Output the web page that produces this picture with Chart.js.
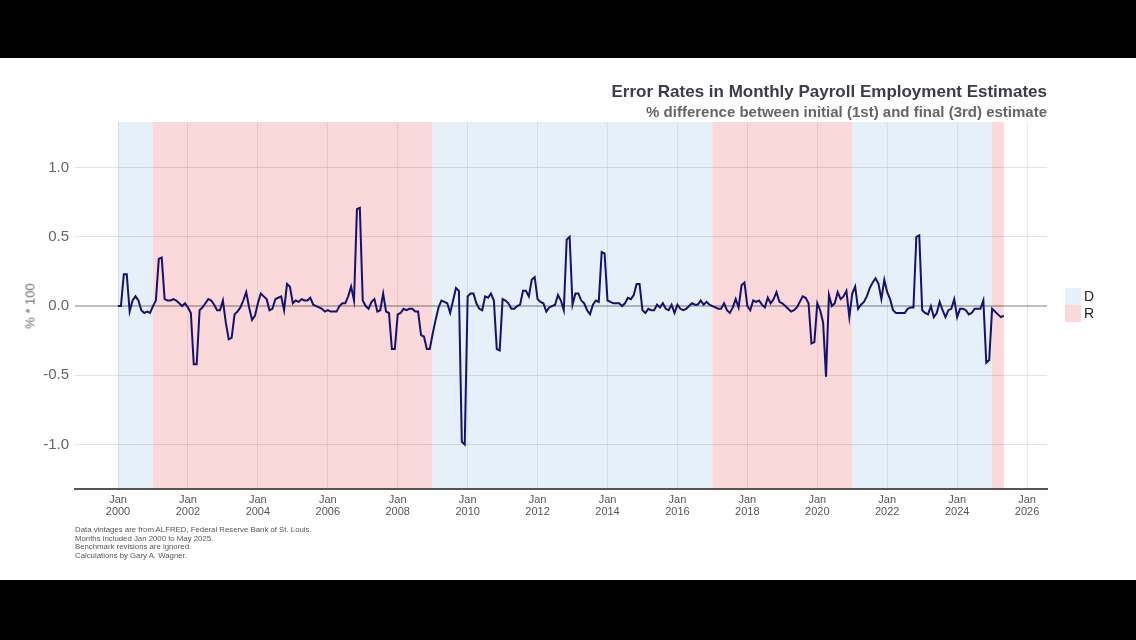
<!DOCTYPE html>
<html>
<head>
<meta charset="utf-8">
<script src="https://cdn.jsdelivr.net/npm/chart.js@4.4.1/dist/chart.umd.min.js"></script>
<style>
  html, body { margin:0; padding:0; background:#000; width:1136px; height:640px; overflow:hidden; }
  body { font-family: 'Liberation Sans', Arial, sans-serif; }
  #panel { position:absolute; left:0; top:58px; width:1136px; height:522px; background:#fff; }
  #chart { position:absolute; left:0; top:0; }
  .title { position:absolute; right:89px; top:25px; font-size:17px; line-height:17px; font-weight:bold; color:#3a3d48; white-space:nowrap; }
  .subtitle { position:absolute; right:89px; top:46px; font-size:15px; line-height:15px; font-weight:bold; color:#666; white-space:nowrap; }
  .ytitle { position:absolute; left:30px; top:248px; transform:translate(-50%,-50%) rotate(-90deg); font-size:13px; color:#6a6a6a; white-space:nowrap; }
  .note { position:absolute; left:75px; top:468px; font-size:7.8px; line-height:8.6px; color:#555; white-space:nowrap; }
  .lg-box { position:absolute; left:1065px; width:16px; height:17px; }
  .lg-txt { position:absolute; left:1084px; font-size:14px; line-height:17px; color:#222; }
</style>
</head>
<body>
<div id="panel">
  <canvas id="chart" width="1136" height="522"></canvas>
  <div class="title">Error Rates in Monthly Payroll Employment Estimates</div>
  <div class="subtitle">% difference between initial (1st) and final (3rd) estimate</div>
  <div class="ytitle">% * 100</div>
  <div class="note">Data vintages are from ALFRED, Federal Reserve Bank of St. Louis.<br>Months included Jan 2000 to May 2025.<br>Benchmark revisions are ignored.<br>Calculations by Gary A. Wagner.</div>
  <div class="lg-box" id="lgD" style="top:230px"></div>
  <div class="lg-txt" style="top:230px">D</div>
  <div class="lg-box" id="lgR" style="top:247px"></div>
  <div class="lg-txt" style="top:247px">R</div>
</div>
<script>
// ---- data ----
const startYear = 2000;           // first month: Jan 2000 (monthly series)
const errorRate = [
  // 2000
  0.00, 0.00, 0.23, 0.23, -0.04, 0.04, 0.07, 0.04, -0.03, -0.05, -0.04, -0.05,
  // 2001
  0.00, 0.04, 0.34, 0.35, 0.05, 0.04, 0.04, 0.05, 0.04, 0.02, 0.00, 0.02,
  // 2002
  -0.01, -0.05, -0.42, -0.42, -0.03, -0.01, 0.02, 0.05, 0.04, 0.01, -0.03, -0.03,
  // 2003
  0.04, -0.12, -0.24, -0.23, -0.06, -0.04, -0.01, 0.04, 0.10, -0.01, -0.10, -0.07,
  // 2004
  0.02, 0.09, 0.07, 0.05, -0.03, -0.02, 0.05, 0.06, 0.07, -0.03, 0.16, 0.14,
  // 2005
  0.02, 0.04, 0.03, 0.05, 0.04, 0.04, 0.06, 0.01, 0.00, -0.01, -0.02, -0.04,
  // 2006
  -0.03, -0.04, -0.04, -0.04, 0.00, 0.02, 0.02, 0.07, 0.14, 0.04, 0.70, 0.71,
  // 2007
  0.04, 0.00, -0.02, 0.03, 0.05, -0.04, -0.03, 0.09, -0.04, -0.05, -0.31, -0.31,
  // 2008
  -0.06, -0.05, -0.02, -0.03, -0.02, -0.02, -0.04, -0.04, -0.21, -0.22, -0.31, -0.31,
  // 2009
  -0.20, -0.10, -0.01, 0.04, 0.03, 0.02, -0.05, 0.04, 0.13, 0.11, -0.98, -1.00,
  // 2010
  0.07, 0.09, 0.09, 0.02, -0.02, -0.03, 0.07, 0.06, 0.09, 0.04, -0.31, -0.32,
  // 2011
  0.05, 0.04, 0.02, -0.02, -0.02, 0.00, 0.01, 0.11, 0.11, 0.07, 0.19, 0.21,
  // 2012
  0.05, 0.03, 0.02, -0.04, -0.01, 0.00, 0.01, 0.08, 0.04, -0.03, 0.48, 0.50,
  // 2013
  0.01, 0.09, 0.09, 0.04, 0.02, -0.03, -0.06, 0.01, 0.04, 0.03, 0.39, 0.38,
  // 2014
  0.04, 0.03, 0.02, 0.02, 0.02, 0.00, 0.02, 0.06, 0.05, 0.08, 0.16, 0.16,
  // 2015
  -0.03, -0.05, -0.02, -0.03, -0.03, 0.01, -0.01, 0.02, -0.02, -0.03, 0.01, -0.05,
  // 2016
  0.01, -0.02, -0.03, -0.02, 0.00, 0.02, 0.01, 0.01, 0.04, 0.01, 0.03, 0.01,
  // 2017
  0.00, -0.01, -0.02, -0.02, 0.02, -0.03, -0.05, -0.01, 0.05, -0.01, 0.15, 0.17,
  // 2018
  0.00, -0.03, 0.04, 0.03, 0.04, 0.01, -0.01, 0.06, 0.02, 0.05, 0.10, 0.03,
  // 2019
  0.02, 0.00, -0.02, -0.04, -0.03, -0.01, 0.03, 0.07, 0.06, 0.02, -0.27, -0.26,
  // 2020
  0.02, -0.03, -0.12, -0.51, 0.08, 0.00, 0.02, 0.10, 0.05, 0.07, 0.11, -0.08,
  // 2021
  0.09, 0.14, -0.02, 0.01, 0.03, 0.07, 0.13, 0.17, 0.20, 0.16, 0.05, 0.19,
  // 2022
  0.10, 0.05, -0.03, -0.05, -0.05, -0.05, -0.05, -0.02, -0.01, -0.01, 0.50, 0.51,
  // 2023
  -0.03, -0.05, -0.06, 0.00, -0.08, -0.05, 0.03, -0.03, -0.08, -0.03, -0.02, 0.05,
  // 2024
  -0.08, -0.02, -0.02, -0.03, -0.06, -0.05, -0.02, -0.02, -0.02, 0.04, -0.41, -0.39,
  // 2025
  -0.02, -0.04, -0.06, -0.08, -0.07
];
const termStart = [2000, 2001, 2009, 2017, 2021, 2025];
const termEnd   = [2001, 2009, 2017, 2021, 2025, 2025 + 4/12];
const termParty = ['D', 'R', 'D', 'R', 'D', 'R'];
const partyNames = ['D', 'R'];
const xTickYears = [2000, 2002, 2004, 2006, 2008, 2010, 2012, 2014, 2016, 2018, 2020, 2022, 2024, 2026];
const xTickMonth = 'Jan';
const yTicks = [-1.0, -0.5, 0.0, 0.5, 1.0];

// ---- styles ----
const partyColors = { D: '#e6f0f9', R: '#fbd8da' };
document.getElementById('lgD').style.background = partyColors.D;
document.getElementById('lgR').style.background = partyColors.R;

const points = errorRate.map((v, i) => ({ x: startYear + i / 12, y: v }));

const shadingPlugin = {
  id: 'partyShading',
  beforeDraw(chart) {
    const { ctx, chartArea, scales } = chart;
    ctx.save();
    termStart.forEach((s, i) => {
      const x1 = scales.x.getPixelForValue(s);
      const x2 = scales.x.getPixelForValue(termEnd[i]);
      ctx.fillStyle = partyColors[termParty[i]];
      ctx.fillRect(x1, chartArea.top, x2 - x1, chartArea.bottom - chartArea.top);
    });
    ctx.restore();
  }
};

new Chart(document.getElementById('chart'), {
  type: 'line',
  data: {
    datasets: [{
      data: points,
      borderColor: '#13136c',
      borderWidth: 2,
      pointRadius: 0,
      tension: 0,
      fill: false
    }]
  },
  options: {
    responsive: false,
    animation: false,
    devicePixelRatio: 1,
    layout: { padding: { left: 0, right: 89, top: 64, bottom: 0 } },
    plugins: { legend: { display: false }, tooltip: { enabled: false } },
    scales: {
      x: {
        type: 'linear',
        min: 1998.77,
        max: 2026.57,
        afterBuildTicks: a => { a.ticks = xTickYears.map(v => ({ value: v })); },
        afterFit: a => { a.height = 91; },
        ticks: {
          callback: v => [xTickMonth, String(v)],
          font: { family: "'Liberation Sans', Arial, sans-serif", size: 11, lineHeight: 1.1 },
          color: '#555',
          padding: 5,
          maxRotation: 0,
          autoSkip: false
        },
        grid: { color: 'rgba(0,0,0,0.08)', lineWidth: 1, drawTicks: false },
        border: { display: true, color: '#555', width: 2 }
      },
      y: {
        min: -1.321,
        max: 1.329,
        afterBuildTicks: a => { a.ticks = yTicks.map(v => ({ value: v })); },
        afterFit: a => { a.width = 75; },
        ticks: {
          callback: v => Number(v).toFixed(1),
          font: { family: "'Liberation Sans', Arial, sans-serif", size: 15 },
          color: '#666',
          padding: 6
        },
        grid: {
          color: c => (c.tick && c.tick.value === 0) ? 'rgba(0,0,0,0.25)' : 'rgba(0,0,0,0.1)',
          lineWidth: c => (c.tick && c.tick.value === 0) ? 2 : 1,
          drawTicks: false
        },
        border: { display: false }
      }
    }
  },
  plugins: [shadingPlugin]
});
</script>
</body>
</html>
